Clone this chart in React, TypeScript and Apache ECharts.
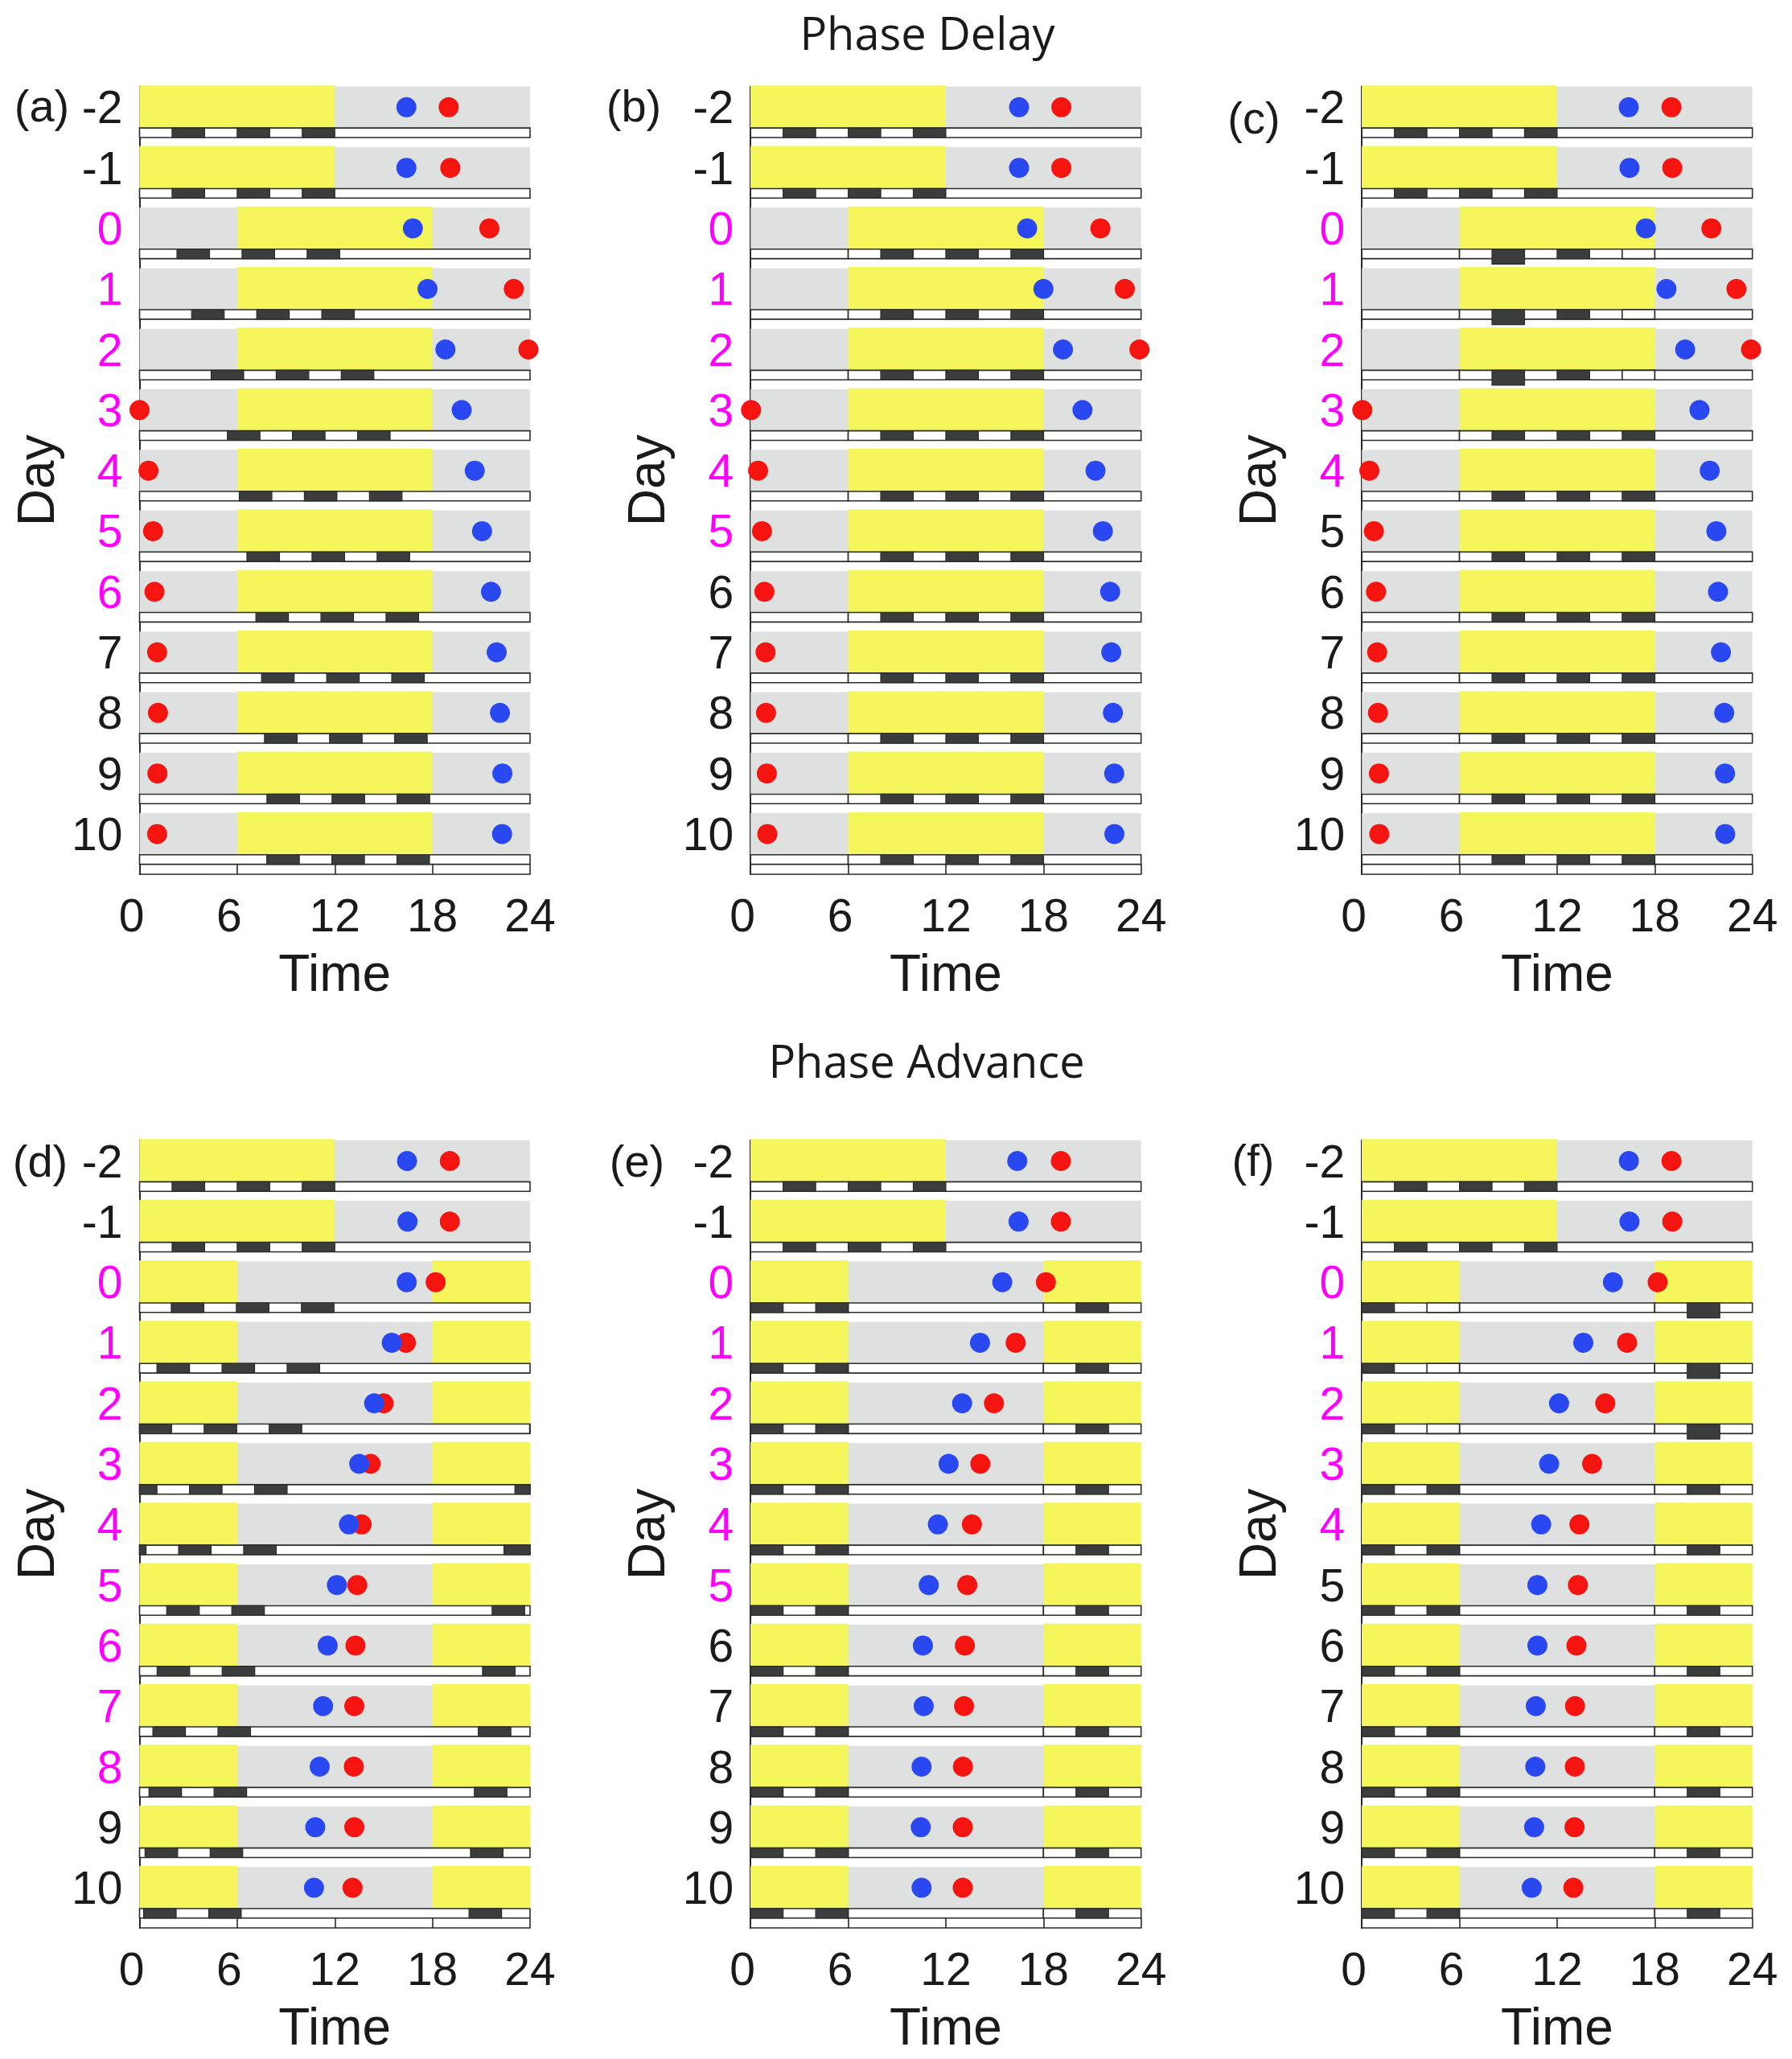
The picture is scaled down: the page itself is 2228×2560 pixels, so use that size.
import React, { useEffect, useRef } from 'react';
import * as echarts from 'echarts';

const DAYS = [-2, -1, 0, 1, 2, 3, 4, 5, 6, 7, 8, 9, 10];
const LIGHT_HOURS = 12;

// time (h) the light switches on, per day
const LIGHT_ON_DELAY = [0, 0, 6, 6, 6, 6, 6, 6, 6, 6, 6, 6, 6];
const LIGHT_ON_ADVANCE = [0, 0, 18, 18, 18, 18, 18, 18, 18, 18, 18, 18, 18];

// start (h) of the first of three 2 h dark blocks, 4 h apart
const A_BLOCK = [2.0, 2.0, 2.3, 3.2, 4.4, 5.4, 6.13, 6.6, 7.15, 7.5, 7.68, 7.83, 7.82];
const B_BLOCK = [2, 2, 8, 8, 8, 8, 8, 8, 8, 8, 8, 8, 8];
const C_BLOCK = [2, 2, 8, 8, 8, 8, 8, 8, 8, 8, 8, 8, 8];
const D_BLOCK = [2.0, 2.0, 1.95, 1.07, 23.97, 23.07, 22.4, 21.67, 21.08, 20.82, 20.58, 20.34, 20.25];
const E_BLOCK = [2, 2, 20, 20, 20, 20, 20, 20, 20, 20, 20, 20, 20];
const F_BLOCK = [2, 2, 20, 20, 20, 20, 20, 20, 20, 20, 20, 20, 20];

// D = dark, T = tall dark, E = empty
const TRANSIENT_KINDS = ['DDD', 'DDD', 'TDE', 'TDE', 'TDE', 'DDD', 'DDD', 'DDD', 'DDD', 'DDD', 'DDD', 'DDD', 'DDD'];

const A_BLUE = [16.4, 16.4, 16.8, 17.7, 18.8, 19.8, 20.6, 21.05, 21.6, 21.95, 22.15, 22.3, 22.28];
const A_RED = [19.0, 19.1, 21.5, 23.0, 23.9, 0.0, 0.55, 0.83, 0.92, 1.08, 1.13, 1.1, 1.08];
const B_BLUE = [16.5, 16.5, 17.0, 18.0, 19.2, 20.4, 21.2, 21.65, 22.1, 22.17, 22.27, 22.35, 22.36];
const B_RED = [19.1, 19.1, 21.5, 23.0, 23.9, 0.03, 0.46, 0.7, 0.85, 0.92, 0.95, 1.0, 1.03];
const C_BLUE = [16.4, 16.45, 17.45, 18.72, 19.87, 20.75, 21.38, 21.79, 21.89, 22.07, 22.27, 22.32, 22.33];
const C_RED = [19.03, 19.08, 21.48, 23.02, 23.92, 0.03, 0.46, 0.74, 0.87, 0.94, 0.99, 1.05, 1.07];
const D_BLUE = [16.44, 16.47, 16.42, 15.5, 14.42, 13.5, 12.87, 12.13, 11.56, 11.28, 11.07, 10.8, 10.72];
const D_RED = [19.07, 19.07, 18.2, 16.37, 15.0, 14.2, 13.65, 13.38, 13.27, 13.2, 13.17, 13.2, 13.09];
const E_BLUE = [16.39, 16.47, 15.47, 14.1, 13.0, 12.17, 11.51, 10.95, 10.59, 10.64, 10.51, 10.46, 10.51];
const E_RED = [19.07, 19.07, 18.15, 16.29, 14.96, 14.12, 13.6, 13.32, 13.17, 13.12, 13.05, 13.04, 13.04];
const F_BLUE = [16.41, 16.45, 15.43, 13.61, 12.12, 11.51, 11.02, 10.79, 10.79, 10.69, 10.66, 10.59, 10.44];
const F_RED = [19.03, 19.08, 18.18, 16.3, 14.96, 14.15, 13.37, 13.28, 13.19, 13.1, 13.09, 13.07, 13.0];

// last day still shown in magenta
const PINK_TO = [6, 5, 4, 8, 5, 4];

const YELLOW = '#f4f65c';
const GRAY = '#dfe1e1';
const DARK = '#3b3d3d';
const EDGE = '#2b2b2b';
const BLUE = '#2a48f2';
const RED = '#f51410';
const MAGENTA = '#ff00ff';
const INK = '#1a1a1a';
const FONT = 'Liberation Sans';
const LABEL_SIZE = 57;

const BAND = 0.343;
const BAR_BOTTOM = 0.5;
const Y_MIN = -2.343;
const Y_MAX = 10.665;

const GRID_LEFTS = [173.5, 933.2, 1693.2];
const GRID_TOPS = [107.5, 1417.7];
const GRID_W = 485.5;
const GRID_H = 979.5;

const PANELS = [
  { tag: '(a)', tagX: 52, tagY: 131, light: LIGHT_ON_DELAY, block: A_BLOCK, blue: A_BLUE, red: A_RED, split: false, kinds: null },
  { tag: '(b)', tagX: 788, tagY: 131, light: LIGHT_ON_DELAY, block: B_BLOCK, blue: B_BLUE, red: B_RED, split: true, kinds: null },
  { tag: '(c)', tagX: 1559, tagY: 146, light: LIGHT_ON_DELAY, block: C_BLOCK, blue: C_BLUE, red: C_RED, split: true, kinds: TRANSIENT_KINDS },
  { tag: '(d)', tagX: 50, tagY: 1443, light: LIGHT_ON_ADVANCE, block: D_BLOCK, blue: D_BLUE, red: D_RED, split: false, kinds: null },
  { tag: '(e)', tagX: 792, tagY: 1443, light: LIGHT_ON_ADVANCE, block: E_BLOCK, blue: E_BLUE, red: E_RED, split: true, kinds: null },
  { tag: '(f)', tagX: 1558, tagY: 1442, light: LIGHT_ON_ADVANCE, block: F_BLOCK, blue: F_BLUE, red: F_RED, split: true, kinds: TRANSIENT_KINDS },
];

// split an interval that may run past 24 h
const wrap = (s: number, e: number): number[][] => {
  const s0 = ((s % 24) + 24) % 24;
  const e0 = s0 + (e - s);
  return e0 <= 24 ? [[s0, e0]] : [[s0, 24], [0, e0 - 24]];
};

const makeRenderItem = (p: any) => (params: any, api: any) => {
  const day = api.value(1);
  const i = api.value(2);
  const rect = (t0: number, t1: number, v0: number, v1: number, style: any) => {
    const a = api.coord([t0, v0]);
    const b = api.coord([t1, v1]);
    return {
      type: 'rect',
      shape: { x: a[0], y: Math.min(a[1], b[1]), width: b[0] - a[0], height: Math.abs(b[1] - a[1]) },
      style,
    };
  };
  const children: any[] = [];
  children.push(rect(0, 24, day - BAND, day + BAND, { fill: GRAY }));
  const on = p.light[i];
  wrap(on, on + LIGHT_HOURS).forEach(([s, e]) =>
    children.push(rect(s, e, day - BAND - 0.018, day + BAND, { fill: YELLOW }))
  );
  const segs = p.split && day >= 0 ? [[0, 6], [6, 18], [18, 24]] : [[0, 24]];
  segs.forEach(([s, e]) =>
    children.push(rect(s, e, day + BAND, day + BAR_BOTTOM, { fill: '#fff', stroke: EDGE, lineWidth: 1.6 }))
  );
  const kinds = p.kinds ? p.kinds[i] : 'DDD';
  for (let k = 0; k < 3; k++) {
    const start = p.block[i] + 4 * k;
    const kind = kinds[k];
    wrap(start, start + 2).forEach(([s, e]) => {
      if (kind === 'E') {
        children.push(rect(s, e, day + BAND, day + BAR_BOTTOM, { fill: '#fff', stroke: EDGE, lineWidth: 1.6 }));
      } else {
        const bottom = kind === 'T' ? day + BAR_BOTTOM + 0.09 : day + BAR_BOTTOM;
        children.push(rect(s, e, day + BAND, bottom, { fill: DARK, stroke: EDGE, lineWidth: 1.2 }));
      }
    });
  }
  return { type: 'group', children };
};

const App: React.FC = () => {
  const chartRef = useRef<HTMLDivElement | null>(null);

  useEffect(() => {
    let chart: echarts.ECharts | null = null;
    if (chartRef.current) {
      chart = echarts.init(chartRef.current, null, { renderer: 'svg' });

      const grid: any[] = [];
      const xAxis: any[] = [];
      const yAxis: any[] = [];
      const series: any[] = [];
      const graphic: any[] = [];

      PANELS.forEach((p, g) => {
        grid.push({
          left: GRID_LEFTS[g % 3],
          top: GRID_TOPS[Math.floor(g / 3)],
          width: GRID_W,
          height: GRID_H,
          show: false,
        });
        xAxis.push({
          type: 'value',
          gridIndex: g,
          min: 0,
          max: 24,
          interval: 6,
          name: 'Time',
          nameLocation: 'middle',
          nameGap: 91,
          nameTextStyle: { fontSize: 64, fontFamily: FONT, color: INK },
          axisLine: { show: true, onZero: false, lineStyle: { color: EDGE, width: 1.6 } },
          axisTick: { show: true, inside: true, length: 12.4, lineStyle: { color: EDGE, width: 1.6 } },
          axisLabel: {
            margin: 22,
            // single digits sit a little left of their tick, as in the original
            formatter: (v: number) => (v < 10 ? `{s|${v}}` : `{w|${v}}`),
            rich: {
              s: { fontSize: LABEL_SIZE, fontFamily: FONT, color: INK, padding: [0, 20, 0, 0] },
              w: { fontSize: LABEL_SIZE, fontFamily: FONT, color: INK },
            },
          },
          splitLine: { show: false },
        });
        const pinkTo = PINK_TO[g];
        yAxis.push({
          type: 'value',
          gridIndex: g,
          inverse: true,
          min: Y_MIN,
          max: Y_MAX,
          name: 'Day',
          nameLocation: 'middle',
          nameRotate: 90,
          nameGap: 97,
          nameTextStyle: { fontSize: 64, fontFamily: FONT, color: INK },
          axisLine: { show: true, onZero: false, lineStyle: { color: EDGE, width: 2 } },
          axisTick: { show: false },
          splitLine: { show: false },
          axisLabel: {
            customValues: DAYS,
            margin: 21,
            formatter: (v: number) => (v >= 0 && v <= pinkTo ? `{m|${v}}` : `{k|${v}}`),
            rich: {
              m: { color: MAGENTA, fontSize: LABEL_SIZE, fontFamily: FONT },
              k: { color: INK, fontSize: LABEL_SIZE, fontFamily: FONT },
            },
          },
        });
        series.push({
          type: 'custom',
          xAxisIndex: g,
          yAxisIndex: g,
          renderItem: makeRenderItem(p),
          data: DAYS.map((d, i) => [0, d, i]),
          encode: { x: 0, y: 1 },
          silent: true,
        });
        series.push({
          type: 'scatter',
          xAxisIndex: g,
          yAxisIndex: g,
          symbolSize: 25,
          clip: false,
          itemStyle: { color: RED, opacity: 1 },
          data: DAYS.map((d, i) => [p.red[i], d]),
        });
        series.push({
          type: 'scatter',
          xAxisIndex: g,
          yAxisIndex: g,
          symbolSize: 25,
          clip: false,
          itemStyle: { color: BLUE, opacity: 1 },
          data: DAYS.map((d, i) => [p.blue[i], d]),
        });
        graphic.push({
          type: 'text',
          x: p.tagX,
          y: p.tagY,
          style: { text: p.tag, fontSize: 56, fontFamily: FONT, fill: INK, align: 'center', verticalAlign: 'middle' },
        });
      });

      graphic.push({
        type: 'text',
        x: 1153,
        y: 40,
        style: {
          text: 'Phase Delay',
          fontSize: 56,
          lineHeight: 60,
          fontFamily: 'Open Sans',
          fill: INK,
          align: 'center',
          verticalAlign: 'middle',
        },
      });
      graphic.push({
        type: 'text',
        x: 1152,
        y: 1318,
        style: {
          text: 'Phase Advance',
          fontSize: 56,
          lineHeight: 60,
          fontFamily: 'Open Sans',
          fill: INK,
          align: 'center',
          verticalAlign: 'middle',
        },
      });

      chart.setOption({
        animation: false,
        backgroundColor: '#fff',
        grid,
        xAxis,
        yAxis,
        series,
        graphic,
      });
    }
    return () => {
      chart?.dispose();
    };
  }, []);

  return (
    <div
      ref={chartRef}
      style={{ position: 'absolute', left: 0, top: 0, width: 2228, height: 2560 }}
    ></div>
  );
};

export default App;
